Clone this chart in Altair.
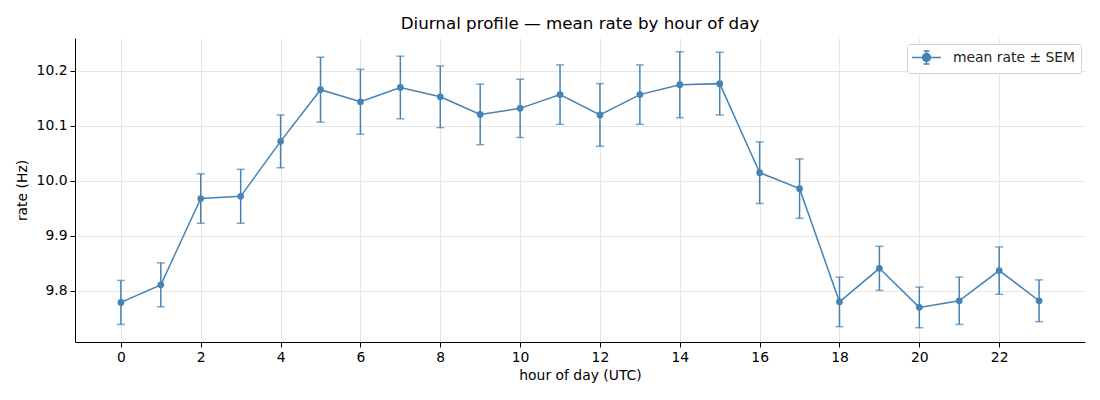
import altair as alt
import pandas as pd

hours = list(range(24))
mean_rate = [9.779, 9.811, 9.968, 9.972, 10.072, 10.166, 10.144, 10.170, 10.153, 10.121,
             10.132, 10.157, 10.120, 10.157, 10.175, 10.177, 10.015, 9.986, 9.780, 9.841,
             9.770, 9.782, 9.837, 9.782]
sem = [0.040, 0.040, 0.045, 0.049, 0.048, 0.059, 0.059, 0.057, 0.056, 0.055,
       0.053, 0.054, 0.057, 0.054, 0.060, 0.057, 0.056, 0.054, 0.045, 0.040,
       0.037, 0.043, 0.043, 0.038]
x_ticks = [0, 2, 4, 6, 8, 10, 12, 14, 16, 18, 20, 22]
y_ticks = [9.8, 9.9, 10.0, 10.1, 10.2]

df = pd.DataFrame({
    "hour": hours,
    "rate": mean_rate,
    "lo": [m - s for m, s in zip(mean_rate, sem)],
    "hi": [m + s for m, s in zip(mean_rate, sem)],
    "series": ["mean rate ± SEM"] * 24,
})

color = "#4682b4"
FONT = "DejaVu Sans"

xs = alt.Scale(domain=[-1.15, 24.15], nice=False, zero=False)
ys = alt.Scale(domain=[9.707, 10.26], nice=False, zero=False)

x_enc = alt.X("hour:Q", scale=xs, title="hour of day (UTC)",
              axis=alt.Axis(values=x_ticks, format="d"))
y_enc = alt.Y("rate:Q", scale=ys, title="rate (Hz)",
              axis=alt.Axis(values=y_ticks, format=".1f"))

base = alt.Chart(df)

legend_path = ("M-1.93,0H1.93 M0,-0.87V0.87 M-0.4,-0.87H0.4 M-0.4,0.87H0.4 "
               "M0.53,0 A0.53,0.53 0 1,1 -0.53,0 A0.53,0.53 0 1,1 0.53,0 Z")

line = base.mark_line(strokeWidth=1.5).encode(
    x=x_enc, y=y_enc,
    color=alt.Color("series:N", scale=alt.Scale(range=[color]),
                    legend=alt.Legend(title=None, orient="none", legendX=832, legendY=6,
                                      symbolType=legend_path, symbolSize=225,
                                      symbolStrokeWidth=1.5, symbolFillColor=color,
                                      symbolStrokeColor=color, symbolOffset=6,
                                      labelFont=FONT, labelFontSize=13.9, labelColor="#222",
                                      strokeColor="#d0d0d0", fillColor="white",
                                      cornerRadius=3, padding=5, labelOffset=18)),
)

rules = base.mark_rule(color=color, strokeWidth=1.5).encode(
    x="hour:Q", y="lo:Q", y2="hi:Q")
caps_lo = base.mark_tick(color=color, orient="horizontal", size=8, thickness=1.5).encode(
    x="hour:Q", y="lo:Q")
caps_hi = base.mark_tick(color=color, orient="horizontal", size=8, thickness=1.5).encode(
    x="hour:Q", y="hi:Q")
points = base.mark_circle(color=color, size=45, opacity=1).encode(x="hour:Q", y="rate:Q")

chart = alt.layer(line, rules, caps_lo, caps_hi, points).properties(
    width=1010, height=304,
    title=alt.Title("Diurnal profile — mean rate by hour of day", font=FONT, fontSize=16.7,
                    fontWeight="normal", color="black", anchor="middle", offset=5),
    autosize=alt.AutoSizeParams(type="none"),
    padding={"left": 67, "top": 30, "right": 5, "bottom": 50},
).configure_view(stroke=None).configure_axis(
    labelFont=FONT, labelFontSize=13.9, labelColor="black",
    titleFont=FONT, titleFontSize=13.9, titleFontWeight="normal", titleColor="black",
    domainColor="black", domainWidth=1, tickColor="black", tickSize=5, tickWidth=1,
    gridColor="#e6e6e6", gridWidth=1, labelPadding=3,
).configure_axisX(titlePadding=5).configure_axisY(titlePadding=7)

chart.save("out.html", embed_options={"renderer": "svg", "actions": False})
